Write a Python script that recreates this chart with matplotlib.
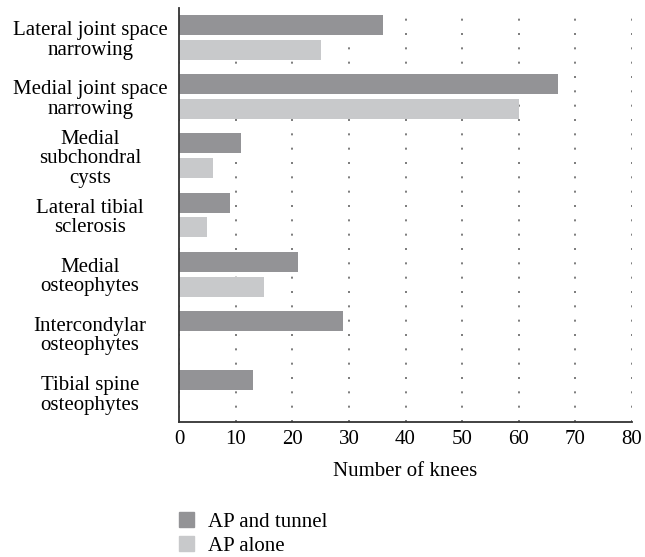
import numpy as np
import matplotlib.pyplot as plt
from matplotlib.patches import Patch

categories = ["Lateral joint space\nnarrowing", "Medial joint space\nnarrowing",
              "Medial\nsubchondral\ncysts", "Lateral tibial\nsclerosis",
              "Medial\nosteophytes", "Intercondylar\nosteophytes", "Tibial spine\nosteophytes"]
ap_tunnel = [36, 67, 11, 9, 21, 29, 13]
ap_alone = [25, 60, 6, 5, 15, 0, 0]

plt.rcParams["font.family"] = ["Liberation Serif", "DejaVu Serif"]
plt.rcParams["font.size"] = 15

dark = "#939396"
light = "#c8c9cb"

fig = plt.figure(figsize=(6.45, 5.57), dpi=100)
ax = fig.add_axes([0.2775, 0.2424, 0.7025, 0.7432])

y = np.arange(len(categories))
h = 0.34
ax.barh(y - 0.21, ap_tunnel, height=h, color=dark, zorder=2)
ax.barh(y + 0.21, ap_alone, height=h, color=light, zorder=2)

ax.set_ylim(len(categories) - 0.5, -0.5)
ax.set_xlim(0, 80)
ax.set_xticks(range(0, 81, 10))
ax.set_yticks(y)
ax.set_yticklabels(categories, ha="center", linespacing=1.05)
ax.tick_params(axis="y", length=0, pad=64)
ax.tick_params(axis="x", length=0, pad=6)
ax.xaxis.grid(True, linestyle=(0, (1.2, 7.4)), color="#666666", linewidth=1.2, zorder=0)
ax.spines["top"].set_visible(False)
ax.spines["right"].set_visible(False)
ax.spines["left"].set_color("#333333")
ax.spines["bottom"].set_color("#333333")
ax.spines["left"].set_linewidth(1.3)
ax.spines["bottom"].set_linewidth(1.3)
ax.set_xlabel("Number of knees", labelpad=9)

handles = [Patch(color=dark, label="AP and tunnel"), Patch(color=light, label="AP alone")]
fig.legend(handles=handles, loc="upper left", bbox_to_anchor=(0.278, 0.08), frameon=False,
           handlelength=0.7, handleheight=0.7, handletextpad=0.7, labelspacing=0.2,
           borderpad=0, borderaxespad=0)

plt.savefig("out.png", dpi=100)
